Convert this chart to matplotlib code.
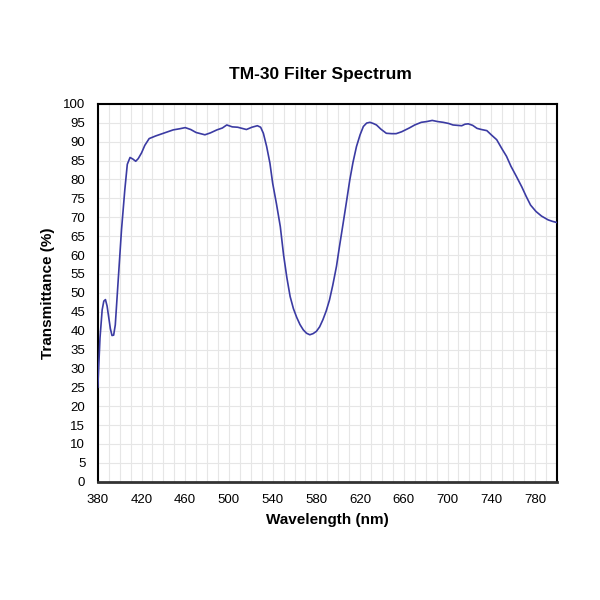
import matplotlib
matplotlib.use("Agg")
import matplotlib.pyplot as plt
from matplotlib.ticker import MultipleLocator

wavelength = [380, 382, 384, 385.5, 387, 388.5, 390, 391.5, 393, 394.5, 396, 398.5, 401.7, 404.7, 407, 409.5, 412,
              414.7, 417, 420, 423, 427, 433, 440, 449, 455, 460, 465, 470, 478, 483, 489, 494,
              498, 503, 508, 516, 521, 526, 529, 531.5, 534.5, 537.5, 540, 543.5, 547, 550, 553,
              556, 559, 562, 565, 568, 571, 574, 577, 580, 583, 586, 589, 592, 595, 598.4, 601,
              604.5, 607.5, 610.6, 613.5, 616.7, 620, 623, 626, 629, 632, 635, 639, 644, 649,
              653, 658, 665, 670, 676, 681, 686, 691, 696, 701, 705, 709, 713, 716, 719, 723,
              727, 731, 736, 740, 745, 750, 754, 758, 763, 768, 772, 776, 781, 786, 792, 796, 800]
transmittance = [25, 38, 45.5, 47.8, 48.2, 46.5, 43.5, 40.5, 38.7, 38.8, 41.5, 52.6, 66.7, 77.2, 84, 85.8, 85.4,
                 84.8, 85.5, 87, 89, 90.8, 91.5, 92.2, 93.1, 93.4, 93.7, 93.2, 92.4, 91.8, 92.3, 93.1, 93.6,
                 94.4, 93.9, 93.8, 93.2, 93.8, 94.2, 93.8, 92.2, 88.7, 84.3, 79, 73.5, 67.5, 60, 54,
                 49, 45.8, 43.5, 41.6, 40.2, 39.3, 38.9, 39.2, 39.8, 41, 42.9, 45.2, 48.1, 52, 57, 62,
                 68.4, 74, 79.9, 84.5, 88.7, 91.8, 94, 94.9, 95.1, 94.8, 94.4, 93.3, 92.2, 92.1,
                 92.1, 92.6, 93.6, 94.4, 95.1, 95.3, 95.6, 95.3, 95.1, 94.8, 94.4, 94.3, 94.2, 94.6, 94.7, 94.3,
                 93.5, 93.2, 92.9, 91.8, 90.5, 88, 86.1, 83.5, 80.8, 78, 75.5, 73.2, 71.5, 70.3, 69.3, 68.9, 68.6]

x_ticks = [380, 420, 460, 500, 540, 580, 620, 660, 700, 740, 780]
y_ticks = list(range(0, 101, 5))

plt.rcParams['font.family'] = ['Liberation Sans', 'DejaVu Sans']

fig = plt.figure(figsize=(6, 6), dpi=100)
ax = fig.add_axes([0.163, 0.197, 0.765, 0.63])

ax.plot(wavelength, transmittance, color='#3b3ba3', lw=1.2, zorder=3)

ax.set_xlim(380, 800)
ax.set_ylim(0, 100)
ax.set_xticks(x_ticks)
ax.set_yticks(y_ticks)
ax.xaxis.set_minor_locator(MultipleLocator(10))
ax.grid(which='both', color='#e6e6e6', lw=0.8, zorder=0)
ax.set_axisbelow(True)
ax.tick_params(which='both', length=0, labelsize=9.5)
ax.tick_params(axis='x', pad=9)
ax.tick_params(axis='y', pad=9)

for s in ax.spines.values():
    s.set_color('black')
    s.set_linewidth(1.5)
ax.spines['bottom'].set_color('#333333')
ax.spines['bottom'].set_linewidth(2)

fig.text(0.534, 0.875, 'TM-30 Filter Spectrum', fontsize=12.5, fontweight='bold',
         ha='center', va='center')
ax.set_xlabel('Wavelength (nm)', fontsize=11, fontweight='bold', labelpad=5)
ax.set_ylabel('Transmittance (%)', fontsize=11, fontweight='bold', labelpad=6)

fig.savefig('out.png', dpi=100)
